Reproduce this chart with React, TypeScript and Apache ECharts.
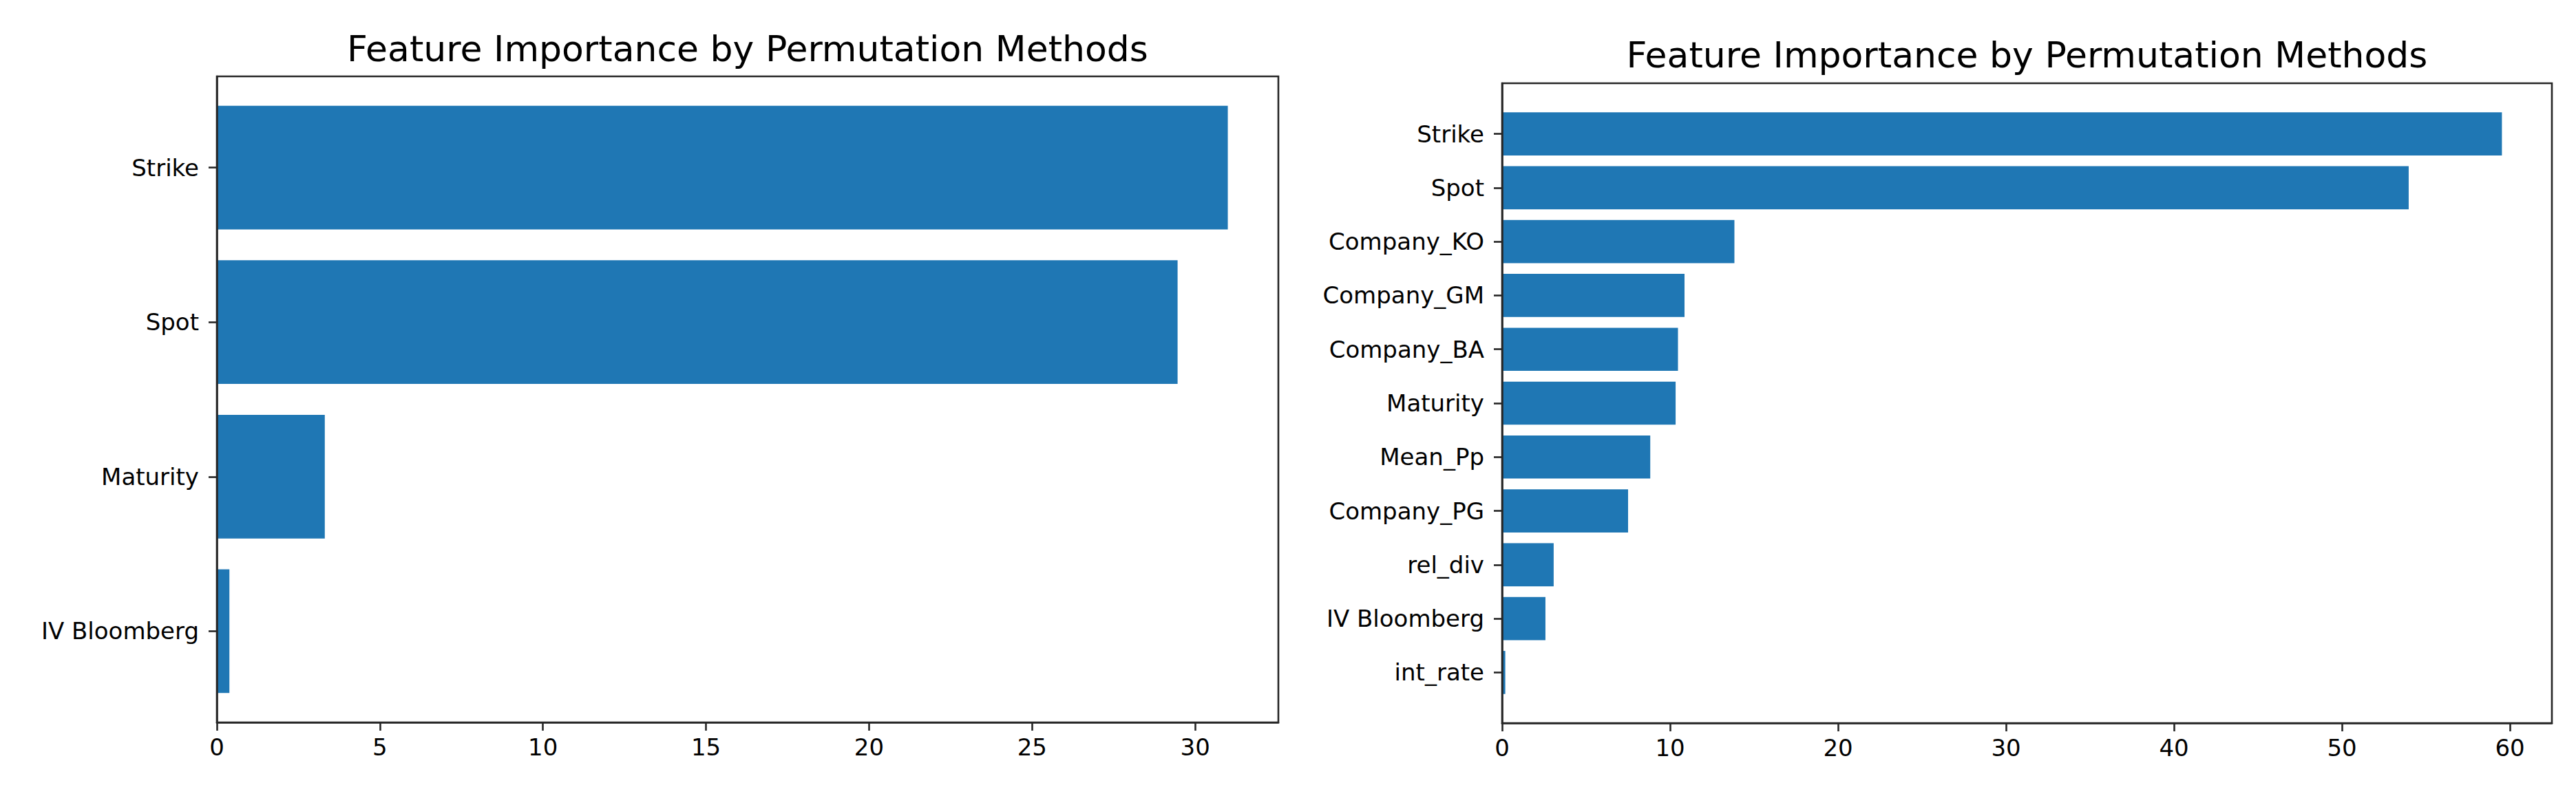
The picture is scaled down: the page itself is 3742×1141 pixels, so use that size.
import React, { useEffect, useRef } from "react";
import * as echarts from "echarts";

// ---- data ----
const titleText = "Feature Importance by Permutation Methods";

const leftCategories = ["Strike", "Spot", "Maturity", "IV Bloomberg"];
const leftValues = [31.0, 29.46, 3.31, 0.385];
const leftTicks = [0, 5, 10, 15, 20, 25, 30];

const rightCategories = [
  "Strike",
  "Spot",
  "Company_KO",
  "Company_GM",
  "Company_BA",
  "Maturity",
  "Mean_Pp",
  "Company_PG",
  "rel_div",
  "IV Bloomberg",
  "int_rate",
];
const rightValues = [59.52, 53.97, 13.83, 10.86, 10.47, 10.33, 8.82, 7.5, 3.07, 2.58, 0.19];
const rightTicks = [0, 10, 20, 30, 40, 50, 60];

// ---- styles ----
const FONT = "DejaVu Sans";
const BAR = "#1f77b4";
const SPINE = "#262626";
const SPINE_W = 2.6;

type Frame = { left: number; top: number; width: number; height: number; titleTop: number };
const leftFrame: Frame = { left: 315, top: 111, width: 1542, height: 939, titleTop: 45 };
const rightFrame: Frame = { left: 2182, top: 121, width: 1525, height: 930, titleTop: 54 };

// matplotlib-like vertical margins: bars span [-0.4, n-0.6], 5% margins
function innerPad(n: number, h: number) {
  const total = (n - 0.2) * 1.1;
  const pad = (total - n) / 2;
  return (pad / total) * h;
}

function buildPanel(
  idx: number,
  frame: Frame,
  cats: string[],
  vals: number[],
  ticks: number[]
) {
  const max = Math.max(...vals) * 1.05;
  const pad = innerPad(cats.length, frame.height);
  const g0 = idx * 2;
  const g1 = idx * 2 + 1;
  const grids = [
    {
      left: frame.left,
      top: frame.top,
      width: frame.width,
      height: frame.height,
      show: true,
      borderColor: SPINE,
      borderWidth: SPINE_W,
      backgroundColor: "transparent",
      containLabel: false,
    },
    {
      left: frame.left,
      top: frame.top + pad,
      width: frame.width,
      height: frame.height - 2 * pad,
      containLabel: false,
    },
  ];
  const xAxes = [
    {
      gridIndex: g0,
      type: "value",
      min: 0,
      max,
      z: 10,
      axisLine: { show: true, lineStyle: { color: SPINE, width: SPINE_W } },
      splitLine: { show: false },
      axisTick: {
        show: true,
        length: 12,
        customValues: ticks,
        lineStyle: { color: SPINE, width: SPINE_W },
      },
      axisLabel: {
        customValues: ticks,
        fontSize: 34,
        fontFamily: FONT,
        color: "#000",
        margin: 19,
      },
    },
    {
      gridIndex: g1,
      type: "value",
      min: 0,
      max,
      show: false,
    },
  ];
  const yAxes = [
    {
      gridIndex: g0,
      type: "value",
      z: 10,
      axisLine: { show: true, onZero: false, lineStyle: { color: SPINE, width: SPINE_W } },
      axisTick: { show: false },
      axisLabel: { show: false },
      splitLine: { show: false },
    },
    {
      gridIndex: g1,
      type: "category",
      data: cats,
      inverse: true,
      z: 10,
      axisLine: { show: false },
      splitLine: { show: false },
      axisTick: {
        show: true,
        alignWithLabel: true,
        length: 12,
        lineStyle: { color: SPINE, width: SPINE_W },
      },
      axisLabel: {
        fontSize: 34,
        fontFamily: FONT,
        color: "#000",
        margin: 26,
      },
    },
  ];
  const series = [
    {
      type: "bar",
      xAxisIndex: g1,
      yAxisIndex: g1,
      data: vals,
      barCategoryGap: "20%",
      itemStyle: { color: BAR },
      z: 2,
    },
  ];
  const title = {
    text: titleText,
    left: frame.left + frame.width / 2,
    top: frame.titleTop,
    textAlign: "center",
    padding: 0,
    textStyle: {
      fontFamily: FONT,
      fontSize: 52,
      fontWeight: "normal",
      color: "#000",
    },
  };
  return { grids, xAxes, yAxes, series, title };
}

export default function App() {
  const ref = useRef<HTMLDivElement>(null);
  useEffect(() => {
    if (!ref.current) return;
    const chart = echarts.init(ref.current, undefined, { renderer: "svg" });
    const L = buildPanel(0, leftFrame, leftCategories, leftValues, leftTicks);
    const R = buildPanel(1, rightFrame, rightCategories, rightValues, rightTicks);
    chart.setOption({
      animation: false,
      backgroundColor: "#ffffff",
      title: [L.title, R.title],
      grid: [...L.grids, ...R.grids],
      xAxis: [...L.xAxes, ...R.xAxes],
      yAxis: [...L.yAxes, ...R.yAxes],
      series: [...L.series, ...R.series],
    });
    return () => chart.dispose();
  }, []);
  return (
    <div
      ref={ref}
      style={{
        position: "fixed",
        left: 0,
        top: 0,
        width: 3742,
        height: 1141,
        background: "#fff",
      }}
    />
  );
}
